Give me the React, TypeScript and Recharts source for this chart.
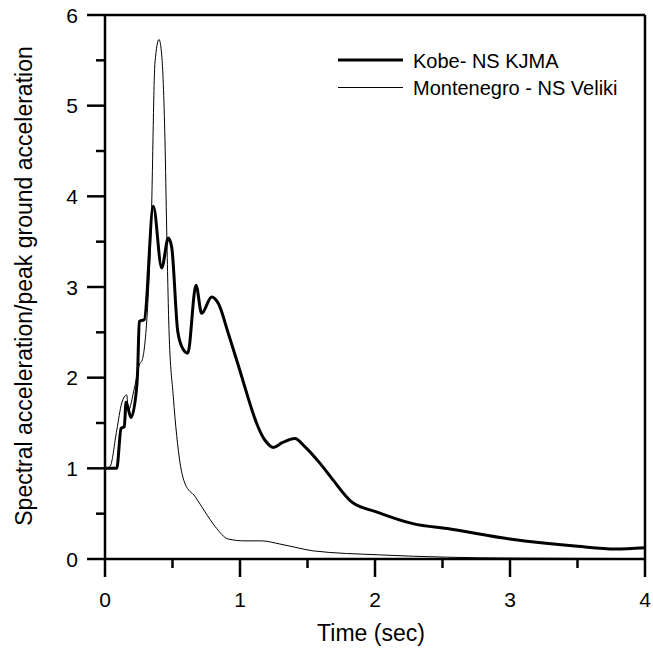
import React from 'react';
import { LineChart, Line, XAxis, YAxis, ReferenceLine } from 'recharts';

const kobeT = [0, 0.087, 0.119, 0.143, 0.156, 0.193, 0.235, 0.242, 0.254, 0.291, 0.358, 0.42, 0.469, 0.494, 0.539, 0.58, 0.613, 0.674, 0.716, 0.79, 0.839, 0.913, 0.976, 1.185, 1.247, 1.309, 1.407, 1.48, 1.59, 1.69, 1.827, 2.01, 2.28, 2.556, 3.0, 3.5, 3.778, 4.0];
const kobeA = [1.0, 1.0, 1.44, 1.46, 1.73, 1.56, 1.9, 2.08, 2.62, 2.64, 3.89, 3.21, 3.54, 3.44, 2.51, 2.31, 2.27, 3.02, 2.71, 2.89, 2.82, 2.49, 2.19, 1.31, 1.23, 1.28, 1.33, 1.24, 1.06, 0.87, 0.63, 0.52, 0.39, 0.33, 0.22, 0.14, 0.11, 0.125];

const monT = [0, 0.037, 0.087, 0.124, 0.161, 0.173, 0.217, 0.259, 0.272, 0.341, 0.37, 0.4, 0.42, 0.444, 0.457, 0.474, 0.506, 0.556, 0.593, 0.667, 0.741, 0.815, 0.913, 1.037, 1.16, 1.296, 1.407, 1.54, 2.04, 2.53, 3.0, 4.0];
const monA = [1.0, 1.02, 1.42, 1.72, 1.81, 1.64, 1.88, 2.16, 2.18, 3.63, 5.47, 5.73, 5.56, 4.63, 3.63, 2.53, 1.79, 1.06, 0.83, 0.69, 0.52, 0.36, 0.22, 0.2, 0.2, 0.165, 0.13, 0.09, 0.045, 0.02, 0.01, 0.005];

const xTicks = [0, 0.5, 1, 1.5, 2, 2.5, 3, 3.5, 4];
const yTicks = [0, 0.5, 1, 1.5, 2, 2.5, 3, 3.5, 4, 4.5, 5, 5.5, 6];

const seriesNames = ['Kobe- NS KJMA', 'Montenegro - NS Veliki'];
const xTitle = 'Time (sec)';
const yTitle = 'Spectral acceleration/peak ground acceleration';

const kobeData = kobeT.map((t, i) => ({ t, a: kobeA[i] }));
const monData = monT.map((t, i) => ({ t, a: monA[i] }));

const FONT = '"Liberation Sans", Arial, Helvetica, sans-serif';

const XTick = (props: any) => {
  const { x, y, payload } = props;
  const v = payload.value;
  const major = Number.isInteger(v);
  return (
    <g>
      <line x1={x} x2={x} y1={y} y2={y + (major ? 18 : 9)} stroke="#000" strokeWidth={2.5} />
      {major && (
        <text x={x} y={y + 48} textAnchor="middle" fontSize={21} fontFamily={FONT} fill="#000">
          {v}
        </text>
      )}
    </g>
  );
};

const YTick = (props: any) => {
  const { x, y, payload } = props;
  const v = payload.value;
  const major = Number.isInteger(v);
  return (
    <g>
      <line x1={x - (major ? 18 : 9)} x2={x} y1={y} y2={y} stroke="#000" strokeWidth={2.5} />
      {major && (
        <text x={x - 27} y={y + 7.5} textAnchor="end" fontSize={21} fontFamily={FONT} fill="#000">
          {v}
        </text>
      )}
    </g>
  );
};

const XLabel = (props: any) => {
  const vb = props.viewBox || { x: 105, y: 559, width: 540, height: 91 };
  return (
    <text x={vb.x + vb.width / 2 - 4} y={vb.y + 82} textAnchor="middle" fontSize={23} fontFamily={FONT} fill="#000">
      {xTitle}
    </text>
  );
};

const YLabel = (props: any) => {
  const vb = props.viewBox || { x: 0, y: 15, width: 105, height: 544 };
  const cx = 32;
  const cy = vb.y + vb.height / 2 - 1;
  return (
    <text x={cx} y={cy} transform={`rotate(-90, ${cx}, ${cy})`} textAnchor="middle" fontSize={23} fontFamily={FONT} fill="#000">
      {yTitle}
    </text>
  );
};

export default function App() {
  return (
    <div style={{ position: 'absolute', left: 0, top: 0, width: 653, height: 650, background: '#fff' }}>
      <LineChart width={653} height={650} margin={{ top: 15, right: 8, left: 0, bottom: 0 }}>
        <XAxis
          type="number"
          dataKey="t"
          domain={[0, 4]}
          ticks={xTicks}
          interval={0}
          tickSize={0}
          tickMargin={0}
          tickLine={false}
          tick={<XTick />}
          axisLine={{ stroke: '#000', strokeWidth: 2.5 }}
          height={91}
          allowDataOverflow
          label={{ content: <XLabel /> }}
        />
        <YAxis
          type="number"
          domain={[0, 6]}
          ticks={yTicks}
          interval={0}
          tickSize={0}
          tickMargin={0}
          tickLine={false}
          tick={<YTick />}
          axisLine={{ stroke: '#000', strokeWidth: 2.5 }}
          width={105}
          allowDataOverflow
          label={{ content: <YLabel /> }}
        />
        <ReferenceLine y={6} stroke="#000" strokeWidth={2.5} />
        <ReferenceLine x={4} stroke="#000" strokeWidth={2.5} />
        <Line data={monData} dataKey="a" name={seriesNames[1]} type="monotone" stroke="#000" strokeWidth={1} dot={false} isAnimationActive={false} />
        <Line data={kobeData} dataKey="a" name={seriesNames[0]} type="monotone" stroke="#000" strokeWidth={3} dot={false} isAnimationActive={false} />
      </LineChart>
      <svg width={653} height={650} style={{ position: 'absolute', left: 0, top: 0, pointerEvents: 'none' }}>
        <line x1={338} x2={403} y1={60} y2={60} stroke="#000" strokeWidth={3} />
        <text x={413} y={67.5} fontSize={20} fontFamily={FONT} fill="#000">{seriesNames[0]}</text>
        <line x1={338} x2={403} y1={87.5} y2={87.5} stroke="#000" strokeWidth={1} />
        <text x={413} y={95} fontSize={20} fontFamily={FONT} fill="#000">{seriesNames[1]}</text>
      </svg>
    </div>
  );
}
